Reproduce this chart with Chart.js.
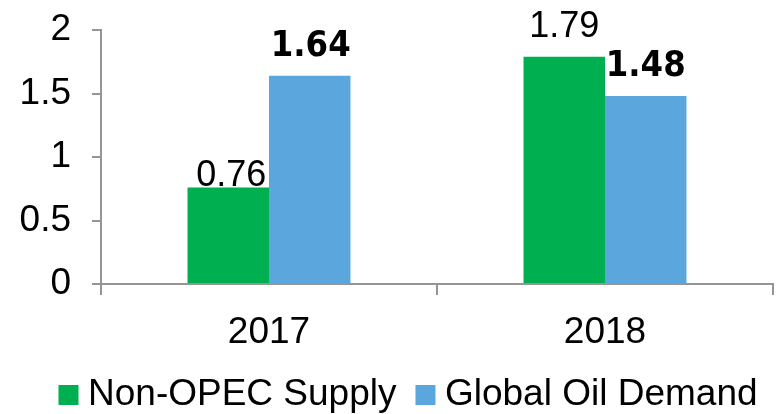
<!DOCTYPE html>
<html>
<head>
<meta charset="utf-8">
<script src="https://cdn.jsdelivr.net/npm/chart.js@4"></script>
<style>
  html, body { margin: 0; padding: 0; background: #fff; }
  #wrap { width: 777px; height: 414px; position: relative; }
</style>
</head>
<body>
<div id="wrap"><canvas id="c" width="777" height="414"></canvas></div>
<script>
const categories = ['2017', '2018'];
const seriesNames = ['Non-OPEC Supply', 'Global Oil Demand'];
const nonOpecSupply = [0.76, 1.79];
const globalOilDemand = [1.64, 1.48];
const yTickValues = [0, 0.5, 1, 1.5, 2];

const GREEN = '#00B050';
const BLUE = '#5BA7DD';
const AXIS = '#959595';

const valueLabels = {
  id: 'valueLabels',
  afterDatasetsDraw(chart, args, opts) {
    const ctx = chart.ctx;
    chart.data.datasets.forEach((ds, di) => {
      const meta = chart.getDatasetMeta(di);
      meta.data.forEach((bar, i) => {
        const lift = opts.lift[di][i];
        const dx = opts.shift[di][i];
        ctx.save();
        ctx.font = opts.fonts[di];
        ctx.fillStyle = '#000';
        ctx.textAlign = 'center';
        ctx.textBaseline = 'alphabetic';
        ctx.fillText(ds.data[i].toFixed(2), bar.x + dx, bar.y - lift);
        ctx.restore();
      });
    });
  }
};

// fixes the legend's height and nudges its position
const legendFit = {
  id: 'legendFit',
  beforeLayout(chart, args, opts) {
    const lg = chart.legend;
    if (lg && !lg._fitWrapped) {
      const orig = lg.fit.bind(lg);
      lg.fit = function () { orig(); this.height = opts.height; };
      lg._fitWrapped = true;
    }
  },
  afterLayout(chart, args, opts) {
    const lg = chart.legend;
    if (!lg) return;
    lg.top += opts.dy;
    lg.bottom = chart.height;
    lg.height = lg.bottom - lg.top;
    lg.left += opts.dx; lg.right += opts.dx;
  }
};

new Chart(document.getElementById('c'), {
  type: 'bar',
  data: {
    labels: categories,
    datasets: [
      { label: seriesNames[0], data: nonOpecSupply, backgroundColor: GREEN },
      { label: seriesNames[1], data: globalOilDemand, backgroundColor: BLUE }
    ]
  },
  options: {
    responsive: false,
    animation: false,
    devicePixelRatio: 1,
    layout: { padding: { top: 30, right: 4, left: 0, bottom: 0 } },
    datasets: { bar: { categoryPercentage: 0.485, barPercentage: 1.0 } },
    scales: {
      x: {
        afterFit(s) { s.height = 80; },
        grid: { display: true, offset: true, drawOnChartArea: false, tickLength: 11, color: AXIS, lineWidth: 2 },
        border: { display: true, color: AXIS, width: 2 },
        ticks: { color: '#000', padding: 16, font: { family: 'Liberation Sans, Arial, sans-serif', size: 37 } }
      },
      y: {
        min: 0, max: 2,
        afterFit(s) { s.width = 101; s.paddingTop = 0; s.paddingBottom = 0; },
        afterBuildTicks(s) { s.ticks = yTickValues.map(v => ({ value: v })); },
        grid: { display: true, drawOnChartArea: false, tickLength: 9, color: AXIS, lineWidth: 2 },
        border: { display: true, color: AXIS, width: 2 },
        ticks: { color: '#000', padding: 21, font: { family: 'Liberation Sans, Arial, sans-serif', size: 37 },
                 callback: v => String(v) }
      }
    },
    plugins: {
      tooltip: { enabled: false },
      legend: {
        position: 'bottom',
        align: 'start',
        labels: {
          usePointStyle: true,
          pointStyle: 'rect',
          boxWidth: 2,
          boxHeight: 20,
          padding: 28,
          color: '#000',
          font: { family: 'Liberation Sans, Arial, sans-serif', size: 37 }
        }
      },
      legendFit: { height: 50, dx: 39.5, dy: -15.5 },
      valueLabels: {
        fonts: ['36px "Liberation Sans", Arial, sans-serif', 'bold 36px "DejaVu Sans Condensed", "DejaVu Sans", sans-serif'],
        lift: [[1.5, 20], [20, 20]],
        shift: [[3, 0], [1, 0]]
      }
    }
  },
  plugins: [valueLabels, legendFit]
});
</script>
</body>
</html>
